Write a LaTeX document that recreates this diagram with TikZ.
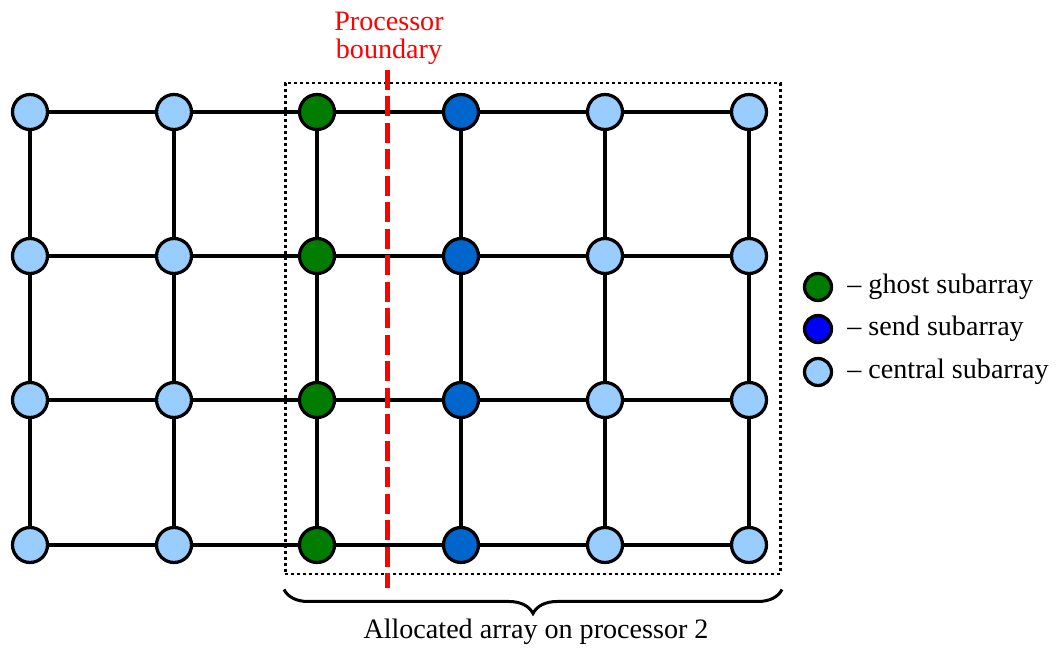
\documentclass[tikz,border=0pt]{standalone}
\usepackage{fontspec}
\setmainfont{Liberation Serif}
\usetikzlibrary{positioning, fit, decorations.pathreplacing}

\definecolor{ghostgreen}{RGB}{0,125,0}
\definecolor{sendblue}{RGB}{0,102,204}
\definecolor{keyblue}{RGB}{0,0,255}
\definecolor{centralblue}{RGB}{153,204,255}

\begin{document}
\begin{tikzpicture}[
  x=0.02cm, y=-0.02cm,
  gridnode/.style={
    circle, draw=black, line width=0.065cm,
    minimum size=0.7cm, inner sep=0pt
  },
  ghost/.style={gridnode, fill=ghostgreen},
  send/.style={gridnode, fill=sendblue},
  central/.style={gridnode, fill=centralblue},
  keynode/.style={gridnode, minimum size=0.54cm},
  link/.style={black, line width=0.065cm},
  procbox/.style={
    draw=black, line width=0.055cm, dash pattern=on 0.06cm off 0.06cm,
    inner xsep=0.25cm, inner ysep=0.2cm
  },
  boundary/.style={red, line width=0.1cm, dash pattern=on 0.4cm off 0.13cm},
  lbl/.style={font=\fontsize{16}{16}\selectfont, align=center},
]
\useasboundingbox (0,0) rectangle (1060,648);

%% ── Grid nodes ───────────────────────────────────────────────────────────────
\foreach \c/\x/\kind in {1/30/central, 2/174/central, 3/317/ghost,
                         4/461/send, 5/605/central, 6/749/central}
  \foreach \r/\y in {1/112, 2/256, 3/400, 4/545}
    \node[\kind] (n\c\r) at (\x,\y) {};

%% ── Grid links ───────────────────────────────────────────────────────────────
% horizontal
\foreach \r in {1,...,4}
  \foreach \c [count=\s from 2] in {1,...,5}
    \draw[link] (n\c\r) -- (n\s\r);
% vertical
\foreach \c in {1,...,6}
  \foreach \r [count=\s from 2] in {1,...,3}
    \draw[link] (n\c\r) -- (n\c\s);

%% ── Allocated array on processor 2 ───────────────────────────────────────────
\node[procbox, fit=(n31)(n64)] (proc2) {};

\draw[decorate, decoration={brace, mirror, amplitude=0.48cm}, line width=0.06cm]
  ([yshift=-0.28cm]proc2.south west) -- ([yshift=-0.28cm]proc2.south east);

\node[lbl] (alloc) at (536,632) {Allocated array on processor 2};

%% ── Processor boundary ───────────────────────────────────────────────────────
\node[lbl, red] (bnd) at (389,38) {Processor\\boundary};

\coordinate (bndtop) at (387,70);
\coordinate (bndbot) at (387,588);
\draw[boundary] (bndtop) -- (bndbot);

%% ── Legend ───────────────────────────────────────────────────────────────────
\foreach \i/\y/\col/\txt in {1/287/ghostgreen/ghost,
                             2/329/keyblue/send,
                             3/372/centralblue/central}
{
  \node[keynode, fill=\col] (key\i) at (818,\y) {};
  \node[lbl, anchor=west, inner sep=0pt] (keytxt\i) at (847,\y) {-- \txt\ subarray};
}

\end{tikzpicture}
\end{document}
